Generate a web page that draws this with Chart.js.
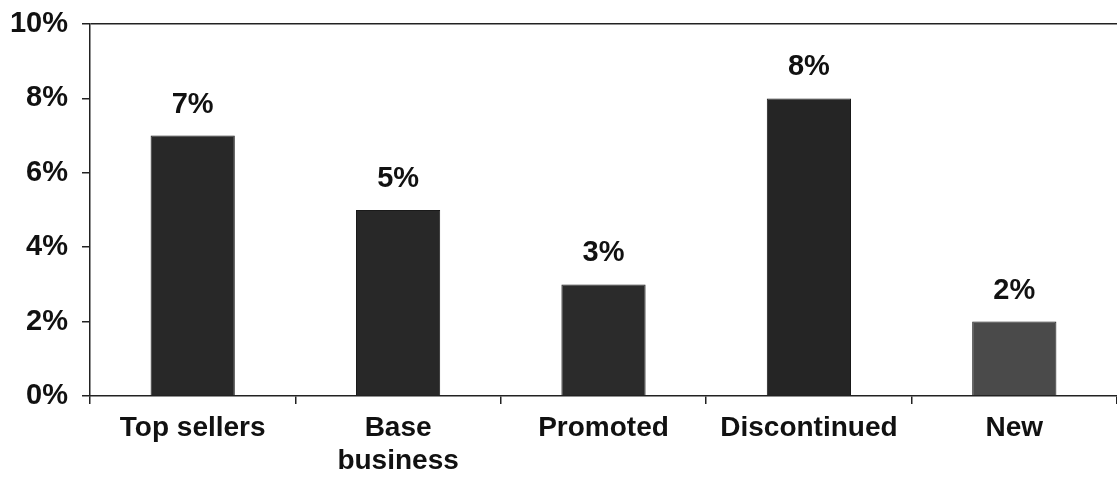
<!DOCTYPE html>
<html>
<head>
<meta charset="utf-8">
<script src="https://cdn.jsdelivr.net/npm/chart.js@4/dist/chart.umd.min.js"></script>
<style>
  html, body { margin: 0; padding: 0; background: #fff; }
  #wrap { width: 1117px; height: 477px; position: relative; }
</style>
</head>
<body>
<div id="wrap"><canvas id="barChart"></canvas></div>
<script>
// --- data ---
const categories = ["Top sellers", ["Base", "business"], "Promoted", "Discontinued", "New"];
const shares = [7, 5, 3, 8, 2];
const barColors = ["#282828", "#282828", "#2b2b2b", "#252525", "#4a4a4a"];
const yTicks = [0, 2, 4, 6, 8, 10];

const fontFamily = "'Liberation Sans', Arial, sans-serif";

// value labels above each bar
const valueLabels = {
  id: "valueLabels",
  afterDatasetsDraw(chart) {
    const ctx = chart.ctx;
    const meta = chart.getDatasetMeta(0);
    ctx.save();
    ctx.font = "bold 29px " + fontFamily;
    ctx.fillStyle = "#111";
    ctx.textAlign = "center";
    ctx.textBaseline = "alphabetic";
    meta.data.forEach((bar, i) => {
      ctx.fillText(shares[i] + "%", bar.x, bar.y - 23);
    });
    ctx.restore();
  },
};

new Chart(document.getElementById("barChart"), {
  type: "bar",
  data: {
    labels: categories,
    datasets: [
      {
        data: shares,
        backgroundColor: barColors,
        borderColor: "#1a1a1a",
        borderWidth: 1,
        barPercentage: 0.41,
        categoryPercentage: 1,
      },
    ],
  },
  options: {
    responsive: true,
    maintainAspectRatio: false,
    animation: false,
    layout: { padding: { top: 24, right: 0, bottom: 0, left: 0 } },
    plugins: { legend: { display: false }, tooltip: { enabled: false } },
    scales: {
      x: {
        afterFit: (s) => { s.height = 81; },
        grid: {
          offset: true,
          drawOnChartArea: false,
          tickLength: 8,
          tickColor: "#222",
          lineWidth: 1.5,
        },
        border: { color: "#222", width: 1.5 },
        ticks: {
          color: "#111",
          font: { family: fontFamily, size: 28, weight: "bold", lineHeight: 1.18 },
          padding: 8,
          maxRotation: 0,
          autoSkip: false,
        },
      },
      y: {
        min: 0,
        max: 10,
        afterFit: (s) => {
          s.width = 90;
          s.paddingTop = 0;
          s.paddingBottom = 0;
        },
        afterBuildTicks: (s) => { s.ticks = yTicks.map((v) => ({ value: v })); },
        grid: {
          // only the 10% line runs across the plot
          color: (c) => (c.tick && c.tick.value === 10 ? "#222" : "rgba(0,0,0,0)"),
          tickColor: "#222",
          tickLength: 8,
          lineWidth: 1.5,
        },
        border: { color: "#222", width: 1.5 },
        ticks: {
          color: "#111",
          font: { family: fontFamily, size: 29, weight: "bold" },
          padding: 14,
          callback: (v) => v + "%",
        },
      },
    },
  },
  plugins: [valueLabels],
});
</script>
</body>
</html>
